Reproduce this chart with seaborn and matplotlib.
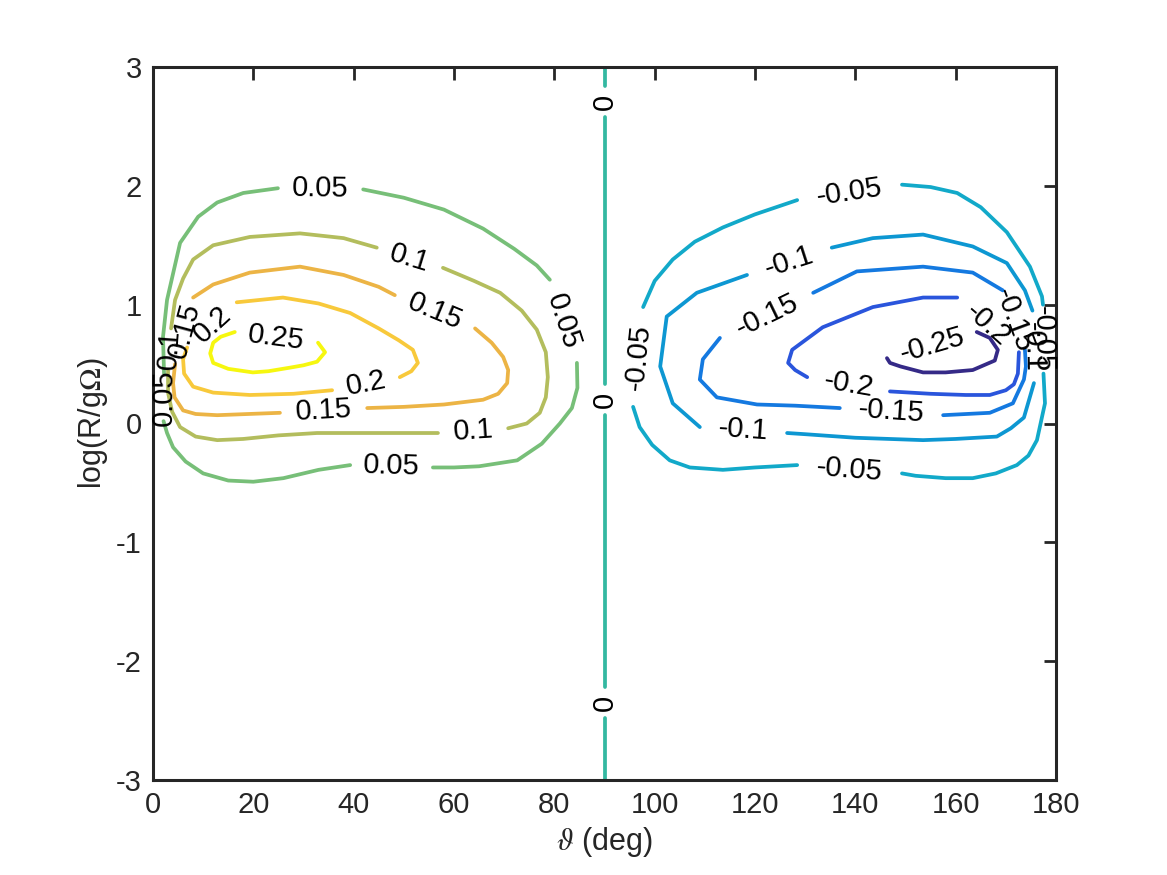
import numpy as np
import pandas as pd
import matplotlib
matplotlib.use("Agg")
import matplotlib.pyplot as plt
import seaborn as sns

nan = np.nan

# contour levels and the colour MATLAB (parula) gave each one
levels = [-0.25, -0.2, -0.15, -0.1, -0.05, 0.0, 0.05, 0.1, 0.15, 0.2, 0.25]
level_colors = ["#352a87", "#2a55dc", "#1479e0", "#0d97d2", "#12a9c9", "#33b8a1",
                "#77bf78", "#b3bd5d", "#ecb445", "#f8c93b", "#f6f70f"]

# traced contour lines: theta (deg) and log(R/gOmega); NaN = gap where the label sits
t_p05 = [2.2, 2.0, 2.8, 5.4, 9.0, 12.8, 18.0, 24.9, nan, 41.9, 50.0, 58.0, 65.8, 72.0, 76.5, 79.1, nan,
         84.5, 84.6, 83.5, 81.1, 77.5, 72.6, 65.0, 60.0, 55.8, nan,
         39.3, 33.0, 26.0, 20.0, 15.0, 10.0, 6.5, 4.0, 2.8, 2.1, nan]
r_p05 = [0.42, 0.73, 1.04, 1.52, 1.74, 1.86, 1.94, 1.98, nan, 1.97, 1.90, 1.80, 1.64, 1.47, 1.33, 1.21, nan,
         0.51, 0.30, 0.13, 0.00, -0.17, -0.31, -0.36, -0.37, -0.37, nan,
         -0.35, -0.39, -0.46, -0.49, -0.48, -0.42, -0.32, -0.20, -0.08, 0.02, nan]

t_p10 = [3.6, 4.4, 6.0, 8.0, 12.0, 19.3, 29.3, 38.0, 44.6, nan,
         57.8, 64.0, 69.2, 73.5, 76.5, 78.3, 78.7, 78.3, 77.1, 74.5, 70.8, nan,
         56.8, 45.0, 32.7, 25.0, 18.0, 12.8, 8.5, 5.4, 3.8, 3.0, 3.0, nan]
r_p10 = [0.80, 1.04, 1.22, 1.38, 1.50, 1.57, 1.60, 1.56, 1.48, nan,
         1.31, 1.20, 1.10, 0.95, 0.79, 0.60, 0.39, 0.22, 0.09, 0.00, -0.04, nan,
         -0.08, -0.08, -0.08, -0.10, -0.13, -0.14, -0.11, -0.03, 0.10, 0.26, 0.45, nan]

t_p15 = [8.0, 12.0, 19.3, 29.3, 38.0, 45.0, 48.2, nan,
         64.2, 67.5, 69.8, 70.8, 70.6, 68.8, 65.8, 58.0, 50.0, 42.7, nan,
         25.3, 19.0, 12.8, 8.5, 6.0, 4.3, 4.0, 4.4, nan]
r_p15 = [1.06, 1.17, 1.27, 1.32, 1.25, 1.15, 1.08, nan,
         0.80, 0.68, 0.56, 0.45, 0.34, 0.25, 0.20, 0.16, 0.14, 0.13, nan,
         0.09, 0.08, 0.07, 0.08, 0.11, 0.22, 0.34, 0.50, nan]

t_p20 = [16.7, 25.9, 33.0, 39.3, 45.0, 49.0, 51.8, 52.8, 51.5, 49.2, nan,
         35.7, 28.0, 19.3, 12.0, 8.0, 6.2, 6.0, 6.8, nan]
r_p20 = [1.02, 1.06, 1.01, 0.93, 0.80, 0.70, 0.62, 0.51, 0.44, 0.39, nan,
         0.28, 0.25, 0.24, 0.26, 0.31, 0.42, 0.54, 0.64, nan]

t_p25 = [32.9, 34.3, 32.7, 30.0, 27.3, 23.0, 19.9, 15.0, 12.0, 11.4, 12.0, 13.5, 16.3, nan]
r_p25 = [0.68, 0.60, 0.52, 0.49, 0.47, 0.44, 0.43, 0.46, 0.51, 0.59, 0.68, 0.73, 0.77, nan]

t_zero = [90, 90, nan, 90, 90, nan, 90, 90, nan, 90, 90]
r_zero = [-3.0, -2.48, nan, -2.22, 0.07, nan, 0.33, 2.58, nan, 2.84, 3.0]

t_m05 = [97.7, 100.0, 103.6, 108.0, 113.6, 120.0, 128.4, nan,
         149.3, 155.0, 160.3, 165.0, 170.2, 174.8, 177.2, 177.4, nan,
         177.5, 177.8, 176.2, 174.5, 172.2, 168.0, 163.4, 158.0, 152.0, 149.3, nan,
         128.4, 120.0, 113.6, 107.0, 103.0, 99.5, 97.0, 95.7, nan]
r_m05 = [0.98, 1.20, 1.38, 1.53, 1.65, 1.76, 1.88, nan,
         2.01, 1.99, 1.94, 1.82, 1.61, 1.32, 1.07, 1.00, nan,
         0.42, 0.17, -0.14, -0.27, -0.35, -0.42, -0.46, -0.46, -0.44, -0.42, nan,
         -0.35, -0.37, -0.39, -0.37, -0.31, -0.18, -0.03, 0.14, nan]

t_m10 = [135.3, 143.5, 153.5, 163.4, 170.2, 173.8, 175.3, nan,
         175.6, 173.6, 171.0, 168.2, 160.0, 153.5, 140.0, 130.0, 126.4, nan,
         109.0, 103.6, 101.1, 102.4, 108.4, 118.4, nan]
r_m10 = [1.48, 1.56, 1.59, 1.49, 1.35, 1.12, 0.95, nan,
         0.34, 0.05, -0.04, -0.11, -0.13, -0.14, -0.12, -0.09, -0.08, nan,
         -0.03, 0.17, 0.48, 0.90, 1.10, 1.25, nan]

t_m15 = [131.6, 140.3, 153.5, 163.4, 169.4, nan,
         173.8, 174.0, 173.6, 171.4, 166.8, 157.5, nan,
         136.9, 128.0, 120.4, 112.4, 109.0, 109.6, 113.0, nan]
r_m15 = [1.10, 1.28, 1.32, 1.27, 1.12, nan,
         0.62, 0.48, 0.37, 0.17, 0.09, 0.07, nan,
         0.13, 0.15, 0.16, 0.22, 0.37, 0.54, 0.72, nan]

t_m20 = [160.3, 153.5, 143.5, 133.5, 127.4, 126.6, 128.0, 130.4, nan,
         146.9, 155.0, 162.0, 166.8, 170.0, 171.6, 172.4, 172.6, nan]
r_m20 = [1.06, 1.06, 0.98, 0.81, 0.62, 0.51, 0.45, 0.39, nan,
         0.27, 0.25, 0.24, 0.24, 0.28, 0.33, 0.42, 0.60, nan]

t_m25 = [164.2, 166.8, 168.4, 167.8, 163.4, 158.0, 153.5, 149.0, 146.9, 146.3, nan]
r_m25 = [0.77, 0.72, 0.62, 0.53, 0.45, 0.43, 0.43, 0.48, 0.51, 0.55, nan]

contours = {
    -0.25: (t_m25, r_m25), -0.2: (t_m20, r_m20), -0.15: (t_m15, r_m15),
    -0.1: (t_m10, r_m10), -0.05: (t_m05, r_m05), 0.0: (t_zero, r_zero),
    0.05: (t_p05, r_p05), 0.1: (t_p10, r_p10), 0.15: (t_p15, r_p15),
    0.2: (t_p20, r_p20), 0.25: (t_p25, r_p25),
}

# long table: one row per traced point, a new segment after every gap
rows = []
for lev, (tt, rr) in contours.items():
    seg = 0
    for t, r in zip(tt, rr):
        if np.isnan(t):
            seg += 1
            continue
        rows.append({"level": f"{lev:g}", "seg": f"{lev:g}_{seg}", "theta": t, "logR": r})
df = pd.DataFrame(rows)
pal = {f"{lev:g}": c for lev, c in zip(levels, level_colors)}

sns.set_style("white")
plt.rcParams["font.family"] = ["Liberation Sans", "DejaVu Sans"]
plt.rcParams["mathtext.fontset"] = "stix"
plt.rcParams["axes.unicode_minus"] = False

fig = plt.figure(figsize=(11.67, 8.75), dpi=100)
ax = fig.add_axes([0.1311, 0.1086, 0.7738, 0.8148])
ax.set_xlim(0, 180)
ax.set_ylim(-3, 3)

sns.lineplot(data=df, x="theta", y="logR", hue="level", units="seg", estimator=None,
             sort=False, palette=pal, legend=False, lw=2.7, ax=ax)

# labels sit in the gaps, turned along the line like clabel does
for lev, (tt, rr) in contours.items():
    n = len(tt)
    for i in range(n):
        if not np.isnan(tt[i]):
            continue
        a = (tt[i - 1], rr[i - 1])
        b = (tt[(i + 1) % n], rr[(i + 1) % n])
        pa, pb = ax.transData.transform([a, b])
        ang = np.degrees(np.arctan2(pb[1] - pa[1], pb[0] - pa[0]))
        if ang > 90:
            ang -= 180
        elif ang < -90:
            ang += 180
        ax.text((a[0] + b[0]) / 2, (a[1] + b[1]) / 2, f"{lev:g}", rotation=ang,
                rotation_mode="anchor", ha="center", va="center", fontsize=21, color="black")

ax.set_xticks(np.arange(0, 181, 20))
ax.set_yticks(np.arange(-3, 4, 1))
ax.tick_params(direction="in", top=True, right=True, length=9, width=2.0,
               labelsize=21, pad=8, colors="#262626")
for sp in ax.spines.values():
    sp.set_linewidth(2.2)
    sp.set_color("#262626")
ax.set_xlabel(r"$\vartheta$ (deg)", fontsize=22, color="#262626", labelpad=4)
ax.set_ylabel(r"log(R/g$\mathit{\Omega}$)", fontsize=22, color="#262626", labelpad=4)

fig.savefig("out.png", dpi=100, facecolor="white")
